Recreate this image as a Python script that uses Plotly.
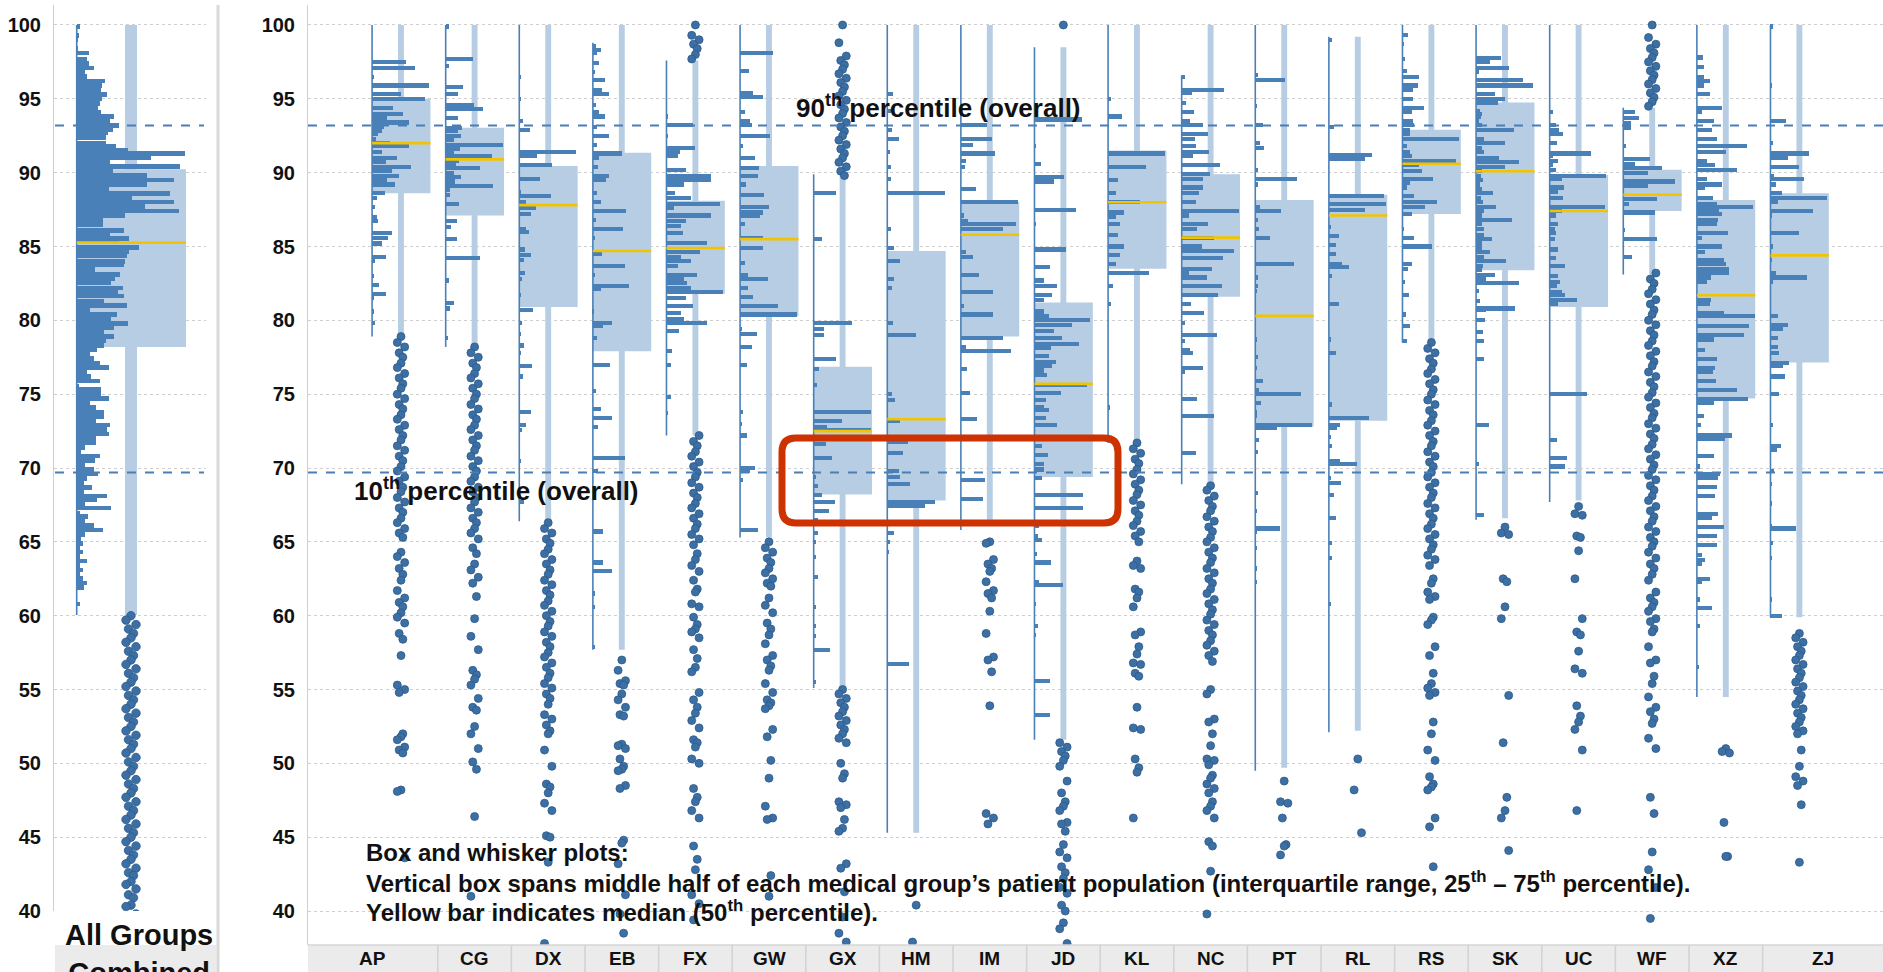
import plotly.graph_objects as go

W, H = 1883, 972

# ---------------- data ----------------
groups = ["AP", "CG", "DX", "EB", "FX", "GW", "GX", "HM", "IM", "JD",
          "KL", "NC", "PT", "RL", "RS", "SK", "UC", "WF", "XZ", "ZJ"]
q1 = [88.6, 87.1, 80.9, 77.9, 81.8, 80.3, 68.2, 67.8, 78.9, 69.4,
      83.5, 81.6, 72.8, 73.2, 87.2, 83.4, 80.9, 87.4, 74.7, 77.15]
median = [92.0, 90.9, 87.8, 84.7, 84.9, 85.5, 72.5, 73.3, 85.8, 75.7,
          88.0, 85.6, 80.3, 87.1, 90.6, 90.1, 87.4, 88.5, 81.7, 84.4]
q3 = [95.0, 93.05, 90.45, 91.35, 88.1, 90.45, 76.85, 84.7, 88.0, 81.2,
      91.5, 89.9, 88.15, 88.5, 92.9, 94.75, 89.85, 90.2, 88.15, 88.6]
whisk_lo = [79.0, 78.2, 66.3, 57.7, 72.2, 65.3, 55.1, 45.3, 66.5, 51.6,
            71.7, 69.0, 49.7, 52.2, 78.5, 66.6, 67.8, 83.1, 54.5, 59.9]
whisk_hi = [100, 100, 100, 100, 97.6, 100, 89.8, 100, 100, 98.5,
            100, 100, 100, 99.2, 100, 100, 100, 94.4, 100, 100]
hist_lo = [78.9, 78.2, 66.4, 57.7, 72.2, 65.3, 55.1, 45.3, 65.8, 51.6,
           71.7, 68.9, 49.5, 52.1, 78.5, 66.5, 67.7, 83.1, 54.5, 59.9]
hist_hi = [100, 100, 100, 98.8, 97.6, 100, 89.9, 100, 100, 98.5,
           100, 96.6, 100, 99.2, 100, 100, 100, 94.4, 100, 100]

# histogram bars: [score, relative count]
hist_AP = [[97.5, 34], [97.1, 43], [96.5, 2], [95.9, 57], [95.3, 29], [95.0, 53], [94.4, 21], [94.0, 31],
           [93.7, 15], [93.4, 37], [93.1, 12], [92.8, 10], [92.6, 6], [92.3, 4], [92.0, 18], [91.8, 37],
           [91.4, 10], [91.0, 25], [90.7, 14], [90.4, 39], [90.1, 20], [89.8, 27], [89.5, 15], [89.2, 23],
           [88.6, 13], [88.3, 5], [87.7, 3], [87.0, 5], [86.7, 6], [85.9, 20], [85.6, 16], [85.2, 10],
           [84.3, 14], [84.0, 3], [83.0, 2], [82.4, 7], [81.8, 14], [81.5, 2], [80.6, 1], [79.8, 3]]
hist_CG = [[99.9, 3], [97.7, 27], [97.2, 3], [95.8, 17], [95.3, 12], [94.6, 28], [94.3, 37], [93.7, 12],
           [93.05, 16], [92.8, 12], [92.5, 15], [92.2, 8], [91.9, 57], [91.6, 14], [91.4, 8], [91.1, 46],
           [90.8, 13], [90.5, 10], [90.3, 34], [90.0, 8], [89.7, 15], [89.4, 9], [89.1, 47], [88.8, 4],
           [88.5, 4], [87.9, 13], [86.7, 11], [86.3, 5], [85.5, 11], [84.2, 34], [82.7, 3], [81.2, 8],
           [80.8, 4], [78.8, 2]]
hist_DX = [[96.5, 2], [95.0, 1], [93.5, 4], [92.9, 11], [91.4, 57], [91.1, 18], [90.5, 33], [89.6, 21],
           [88.7, 2], [88.4, 32], [88.0, 7], [87.6, 17], [87.2, 12], [86.2, 7], [86.0, 10], [84.8, 6],
           [84.4, 12], [84.1, 5], [83.2, 6], [82.8, 3], [81.7, 2], [80.7, 14], [79.8, 3], [79.1, 2],
           [78.3, 5], [77.8, 2], [76.9, 13], [76.2, 4], [73.8, 12], [72.9, 7], [72.6, 3], [70.5, 1], [67.7, 5]]
hist_EB = [[98.6, 3], [98.3, 8], [98.1, 4], [97.4, 6], [96.8, 2], [96.3, 12], [95.6, 9], [95.3, 16],
           [94.6, 3], [94.1, 6], [93.8, 12], [93.1, 4], [92.5, 16], [91.9, 4], [91.3, 29], [91.0, 6],
           [90.4, 5], [89.8, 16], [89.5, 13], [88.6, 4], [88.0, 8], [87.4, 33], [86.8, 3], [86.2, 30],
           [85.6, 2], [84.5, 9], [83.7, 32], [83.1, 2], [82.3, 36], [82.1, 8], [80.6, 1], [79.8, 19],
           [79.6, 10], [78.8, 4], [77.0, 17], [75.2, 3], [74.0, 8], [73.4, 19], [72.8, 5], [70.7, 32],
           [69.8, 5], [65.7, 10], [63.6, 10], [63.0, 19], [61.5, 2], [60.6, 2], [57.9, 2]]
hist_FX = [[93.8, 2], [93.2, 27], [92.5, 2], [91.7, 29], [91.4, 14], [91.1, 12], [90.2, 20], [89.8, 45],
           [89.5, 45], [89.2, 18], [88.6, 9], [88.3, 25], [87.9, 54], [87.6, 8], [87.1, 45], [86.7, 20],
           [86.4, 15], [85.9, 17], [85.25, 41], [84.6, 34], [84.3, 15], [84.0, 25], [83.7, 12], [83.1, 31],
           [82.8, 18], [82.5, 21], [82.2, 25], [81.9, 57], [81.5, 20], [81.0, 27], [80.5, 15], [80.1, 18],
           [79.8, 41], [79.3, 13], [77.9, 6], [77.0, 5], [74.8, 5], [73.7, 2]]
hist_GW = [[98.1, 33], [96.9, 9], [95.4, 13], [95.1, 23], [94.1, 5], [93.5, 10], [93.2, 12], [92.5, 30],
           [91.8, 3], [91.0, 15], [90.3, 19], [89.8, 18], [89.2, 6], [88.5, 24], [87.7, 29], [87.3, 23],
           [87.1, 20], [86.5, 5], [85.6, 23], [84.9, 23], [83.9, 5], [83.1, 8], [82.8, 28], [82.2, 8],
           [81.6, 13], [81.0, 38], [80.4, 57], [79.4, 2], [79.1, 17], [78.2, 12], [77.0, 7], [73.8, 3],
           [73.0, 2], [72.2, 7], [70.0, 15], [69.8, 10], [69.2, 3], [65.8, 18]]
hist_GX = [[88.6, 22], [85.5, 8], [79.8, 38], [79.4, 10], [79.0, 10], [77.4, 22], [76.7, 5], [75.6, 3],
           [73.8, 57], [73.2, 28], [72.8, 13], [72.6, 57], [71.6, 12], [70.7, 18], [69.4, 2], [68.8, 4],
           [68.2, 8], [67.7, 21], [67.1, 15], [66.5, 4], [65.6, 4], [65.0, 2], [64.0, 2], [62.6, 4],
           [60.6, 2], [59.3, 2], [58.6, 2], [57.7, 16], [55.5, 2]]
hist_HM = [[95.3, 6], [94.2, 4], [92.9, 5], [92.3, 12], [91.4, 3], [90.4, 4], [89.6, 4], [88.6, 58],
           [86.2, 4], [84.9, 7], [84.0, 13], [82.8, 7], [82.2, 5], [79.8, 6], [79.0, 29], [75.0, 5],
           [74.6, 8], [73.2, 13], [71.8, 21], [71.0, 16], [69.8, 12], [69.4, 13], [68.9, 23], [67.7, 48],
           [67.4, 38], [65.6, 7], [65.0, 3], [64.3, 2], [56.7, 22]]
hist_IM = [[93.2, 26], [92.3, 31], [91.9, 12], [91.3, 34], [90.8, 5], [90.4, 4], [88.9, 15], [88.0, 57],
           [87.1, 3], [86.7, 7], [86.5, 55], [86.2, 42], [84.6, 5], [84.3, 12], [83.1, 18], [81.9, 32],
           [81.0, 3], [80.4, 32], [78.8, 42], [78.2, 5], [77.9, 50], [76.7, 6], [75.1, 9], [73.3, 16],
           [69.2, 24], [67.9, 22]]
hist_JD = [[93.6, 48], [91.8, 2], [90.6, 7], [89.7, 30], [89.4, 20], [87.5, 42], [86.5, 2], [84.8, 32],
           [83.6, 16], [82.7, 10], [82.3, 23], [81.7, 18], [81.4, 10], [80.6, 10], [80.3, 15], [80.0, 56],
           [79.7, 38], [79.3, 20], [78.8, 28], [78.4, 45], [78.1, 17], [77.6, 15], [77.2, 22], [76.9, 18],
           [76.6, 10], [76.3, 13], [75.6, 53], [75.1, 27], [74.6, 12], [74.1, 10], [73.9, 15], [73.4, 12],
           [72.9, 23], [72.0, 13], [71.5, 8], [70.9, 14], [70.3, 10], [69.9, 10], [69.3, 8], [68.2, 49],
           [67.3, 49], [66.1, 5], [65.4, 4], [65.1, 8], [64.2, 3], [63.6, 17], [62.3, 5], [62.1, 29],
           [60.8, 2], [59.3, 4], [58.7, 2], [55.6, 16], [53.3, 16]]
hist_KL = [[95.0, 3], [93.8, 14], [91.3, 57], [90.4, 38], [89.5, 10], [88.6, 8], [88.0, 32], [87.3, 16],
           [87.0, 8], [86.5, 12], [85.8, 10], [85.0, 16], [84.4, 12], [83.8, 8], [83.2, 41], [82.3, 5],
           [81.1, 3], [74.1, 2]]
hist_NC = [[96.5, 3], [95.6, 42], [95.4, 10], [94.7, 4], [94.1, 12], [93.5, 8], [93.2, 21], [92.6, 26],
           [92.3, 13], [91.8, 14], [91.4, 27], [91.1, 11], [90.5, 38], [89.9, 28], [89.6, 21], [89.0, 21],
           [88.6, 17], [88.0, 14], [87.4, 57], [87.1, 7], [86.5, 26], [86.2, 15], [85.6, 32], [85.0, 20],
           [84.7, 52], [84.2, 41], [83.5, 30], [83.2, 7], [82.9, 25], [82.3, 40], [81.7, 36], [81.1, 9],
           [80.5, 22], [79.8, 3], [79.0, 35], [78.6, 3], [78.0, 8], [77.8, 11], [76.8, 21], [76.5, 3],
           [74.7, 15], [73.5, 32], [71.0, 14]]
hist_PT = [[96.6, 3], [96.3, 30], [94.5, 2], [93.2, 8], [92.0, 5], [91.7, 9], [90.2, 3], [89.6, 42],
           [89.2, 3], [87.7, 5], [87.4, 26], [86.8, 3], [86.2, 4], [85.6, 15], [83.8, 39], [82.9, 3],
           [82.3, 3], [82.0, 2], [78.7, 2], [77.5, 3], [76.8, 2], [75.9, 8], [75.3, 4], [75.0, 46],
           [74.4, 6], [73.8, 2], [73.5, 2], [72.9, 57], [72.7, 22], [71.9, 4], [71.1, 3], [68.3, 3],
           [67.1, 2], [65.9, 25], [65.7, 2], [64.6, 2], [63.2, 2], [62.3, 2]]
hist_RL = [[99.0, 3], [93.1, 5], [91.2, 43], [90.9, 36], [88.4, 55], [87.9, 57], [87.5, 36], [86.3, 2],
           [85.7, 10], [85.1, 7], [84.5, 7], [83.8, 13], [83.6, 20], [83.0, 3], [81.1, 10], [78.7, 2],
           [77.8, 7], [74.3, 3], [73.4, 40], [72.9, 11], [72.7, 8], [72.1, 2], [71.5, 3], [70.5, 11],
           [70.3, 28], [69.3, 2], [69.0, 12], [68.2, 5], [66.6, 7], [64.9, 3], [63.9, 3], [60.8, 2]]
hist_RS = [[99.3, 6], [98.7, 2], [97.7, 3], [96.9, 5], [96.5, 17], [95.9, 16], [95.6, 11], [95.0, 11],
           [94.4, 22], [94.1, 10], [93.5, 11], [93.2, 12], [92.9, 8], [92.6, 8], [92.3, 57], [91.8, 5],
           [91.4, 8], [91.1, 10], [90.8, 54], [90.5, 17], [90.1, 20], [89.6, 31], [89.3, 8], [89.0, 5],
           [88.4, 12], [88.0, 35], [87.7, 23], [87.2, 10], [86.2, 2], [85.6, 12], [85.0, 30], [83.8, 10],
           [83.5, 6], [82.6, 3], [81.7, 7], [80.4, 4], [79.6, 8], [78.6, 5]]
hist_SK = [[97.75, 25], [97.5, 14], [97.1, 33], [96.8, 3], [96.3, 47], [95.9, 57], [95.3, 19], [95.0, 29],
           [94.7, 22], [94.2, 4], [94.0, 6], [93.8, 5], [93.5, 3], [93.2, 6], [92.9, 38], [92.3, 8],
           [92.0, 29], [91.7, 6], [91.4, 8], [91.0, 23], [90.7, 43], [90.4, 29], [90.1, 6], [89.8, 5],
           [89.5, 7], [89.2, 4], [88.9, 6], [88.6, 17], [88.3, 5], [88.0, 7], [87.7, 20], [87.4, 8],
           [87.1, 6], [86.8, 36], [86.5, 6], [86.2, 8], [85.8, 8], [85.5, 16], [85.2, 6], [84.9, 6],
           [84.6, 14], [84.3, 8], [84.0, 30], [83.7, 7], [83.4, 6], [83.1, 19], [82.8, 10], [82.5, 43],
           [82.0, 3], [81.3, 4], [80.8, 39], [80.7, 10], [80.0, 9], [79.2, 7], [78.6, 8], [77.4, 8],
           [72.9, 13], [70.3, 3], [66.8, 8]]
hist_UC = [[94.1, 3], [93.2, 6], [92.9, 9], [92.6, 13], [92.0, 7], [91.3, 41], [91.1, 3], [90.8, 8],
           [90.5, 3], [90.2, 6], [89.8, 56], [89.6, 12], [89.0, 14], [88.7, 8], [88.3, 13], [87.7, 55],
           [87.4, 12], [87.1, 6], [86.5, 8], [86.2, 5], [85.9, 6], [85.5, 5], [84.8, 8], [84.2, 6],
           [83.7, 15], [83.0, 8], [82.6, 10], [82.3, 7], [81.9, 12], [81.7, 15], [81.4, 27], [81.1, 8],
           [75.0, 37], [71.9, 7], [70.7, 17], [70.1, 15]]
hist_WF = [[94.1, 12], [93.7, 16], [93.35, 8], [93.0, 8], [91.8, 3], [90.9, 27], [90.6, 12], [90.3, 39],
           [90.0, 25], [89.4, 52], [89.1, 25], [88.2, 34], [87.9, 6], [87.3, 32], [86.1, 2], [85.5, 34],
           [84.3, 9]]
hist_XZ = [[97.8, 6], [97.15, 7], [96.5, 7], [96.2, 13], [95.9, 7], [95.3, 13], [94.4, 25], [94.1, 5],
           [93.5, 17], [92.9, 15], [92.3, 20], [91.8, 50], [91.4, 29], [90.8, 10], [90.5, 18], [90.2, 40],
           [89.6, 10], [89.2, 25], [89.0, 8], [88.3, 16], [87.9, 20], [87.7, 56], [87.4, 22], [87.2, 25],
           [86.8, 21], [86.5, 20], [85.9, 31], [85.6, 5], [85.0, 25], [84.6, 8], [84.1, 27], [83.8, 29],
           [83.5, 32], [83.2, 32], [82.9, 14], [82.6, 10], [81.4, 14], [81.1, 13], [80.5, 27], [80.3, 58],
           [79.6, 52], [79.0, 47], [78.7, 17], [78.0, 8], [77.4, 20], [76.8, 18], [76.5, 16], [75.9, 19],
           [75.3, 40], [74.7, 51], [74.4, 17], [73.5, 7], [72.9, 4], [72.2, 35], [72.0, 28], [70.8, 17],
           [70.1, 3], [69.6, 23], [69.3, 21], [68.7, 20], [68.1, 18], [66.9, 21], [66.6, 15], [66.0, 27],
           [65.4, 20], [64.8, 20], [64.1, 5], [63.8, 8], [63.5, 5], [62.5, 13], [62.3, 5], [61.1, 3],
           [60.5, 15], [59.3, 3], [56.5, 2]]
hist_ZJ = [[99.9, 3], [95.9, 2], [93.5, 16], [92.0, 3], [91.3, 39], [91.0, 18], [90.4, 29], [89.8, 4],
           [89.6, 34], [89.2, 6], [88.6, 12], [88.3, 57], [88.0, 8], [87.4, 43], [87.1, 2], [85.9, 29],
           [85.0, 3], [84.1, 2], [83.2, 6], [82.9, 37], [82.6, 3], [80.3, 8], [79.7, 18], [79.4, 13],
           [78.8, 8], [78.2, 8], [77.8, 9], [77.1, 19], [76.9, 13], [76.2, 15], [75.0, 9], [72.9, 3],
           [71.5, 11], [71.2, 7], [69.8, 4], [68.9, 2], [67.6, 2], [66.1, 2], [65.9, 26], [64.9, 3],
           [63.9, 2], [61.1, 2], [60.0, 12]]

# individual patients outside the histogram range (dots)
dots_AP = [78.9, 78.5, 78.2, 77.8, 77.5, 77.1, 76.8, 76.4, 76.1, 75.7, 75.4, 75.0, 74.7, 74.3, 74.0, 73.6,
           73.3, 72.9, 72.6, 72.2, 71.9, 71.5, 71.2, 70.8, 70.5, 70.1, 69.8, 69.4, 69.1, 68.7, 68.4, 68.0,
           67.7, 67.3, 67.0, 66.6, 66.3, 65.9, 65.6, 65.3, 64.3, 64.0, 63.6, 63.2, 62.8, 62.4, 61.7, 61.2,
           60.9, 60.6, 60.2, 59.9, 59.5, 58.8, 58.4, 57.3, 55.3, 55.0, 54.8, 52.0, 51.8, 51.6, 51.1, 50.9,
           50.7, 48.2, 48.1, 43.6]
dots_CG = [78.2, 77.8, 77.5, 77.1, 76.8, 76.4, 76.1, 75.7, 75.4, 75.0, 74.7, 74.3, 74.0, 73.6, 73.3, 72.9,
           72.6, 72.2, 71.9, 71.5, 71.2, 70.8, 70.5, 70.1, 69.8, 69.4, 69.1, 68.7, 68.4, 68.0, 67.7, 67.3,
           67.0, 66.6, 66.3, 65.9, 65.6, 65.2, 64.6, 64.2, 63.5, 63.1, 62.6, 62.2, 61.3, 59.8, 58.6, 57.7,
           56.3, 56.0, 55.7, 55.3, 54.4, 53.8, 53.6, 52.5, 52.0, 51.0, 50.1, 49.6, 46.4, 41.0]
dots_DX = [66.3, 65.9, 65.6, 65.2, 64.9, 64.5, 64.2, 63.8, 63.5, 63.1, 62.8, 62.4, 62.1, 61.7, 61.4, 61.0,
           60.7, 60.3, 60.0, 59.6, 59.3, 58.9, 58.6, 58.2, 57.9, 57.5, 57.2, 56.8, 56.5, 56.1, 55.8, 55.4,
           55.1, 54.7, 54.4, 54.0, 53.3, 53.0, 52.6, 52.2, 52.0, 50.9, 49.8, 48.6, 48.4, 48.0, 47.3, 46.8,
           45.1, 45.0, 43.3, 37.8]
dots_EB = [57.0, 56.3, 55.6, 55.4, 55.3, 54.7, 54.3, 53.8, 53.3, 53.2, 51.3, 51.2, 51.0, 50.3, 49.8, 49.6,
           49.5, 48.5, 48.3, 44.8, 44.6, 43.2, 41.1, 39.8, 38.5]
dots_FX = [100.0, 99.3, 99.0, 98.7, 98.4, 98.0, 97.7,
           72.2, 71.8, 71.5, 71.1, 70.8, 70.4, 70.1, 69.7, 69.4, 69.0, 68.7, 68.3, 68.0, 67.6, 67.3, 66.9,
           66.6, 66.2, 65.9, 65.5, 65.2, 64.8, 64.2, 63.8, 63.4, 63.0, 62.4, 61.8, 61.6, 60.8, 60.6, 59.9,
           59.4, 59.1, 58.9, 58.5, 57.7, 57.1, 56.5, 56.2, 54.8, 54.3, 53.8, 53.4, 52.9, 52.4, 51.6, 51.4,
           51.1, 50.3, 50.0, 48.3, 47.7, 47.4, 46.8, 46.3, 44.4, 43.5, 42.8, 41.1, 40.5, 39.4]
dots_GW = [65.0, 64.6, 64.3, 63.9, 63.6, 63.2, 62.9, 62.5, 62.2, 62.0, 61.2, 60.7, 60.2, 59.5, 59.1, 58.7,
           58.1, 57.3, 57.0, 56.6, 56.3, 55.4, 54.8, 54.3, 54.1, 53.9, 53.7, 52.3, 51.8, 50.2, 49.0, 47.1,
           46.3, 46.2, 42.4, 41.0]
dots_GX = [100.0, 98.8, 97.9, 97.6, 97.3, 97.0, 96.7, 96.4, 96.1, 95.8, 95.5, 95.2, 94.9, 94.6, 94.3, 94.0,
           93.7, 93.4, 93.1, 92.8, 92.5, 92.2, 91.9, 91.6, 91.3, 91.0, 90.7, 90.4, 90.1, 89.8,
           55.0, 54.7, 54.4, 54.1, 53.8, 53.5, 53.2, 52.9, 52.6, 52.3, 52.0, 51.7, 51.4, 50.0, 49.3, 49.0,
           47.4, 47.2, 47.0, 46.2, 45.6, 45.4, 43.2, 42.9, 41.3, 39.6, 38.5, 37.9]
dots_HM = [40.4, 37.9]
dots_IM = [65.0, 64.9, 63.8, 63.5, 63.2, 63.0, 62.3, 61.7, 61.5, 61.2, 60.3, 58.8, 57.2, 57.0, 56.2, 53.9,
           46.6, 46.3, 45.9]
dots_JD = [100.0, 51.4, 51.1, 50.8, 50.5, 50.2, 49.8, 48.8, 48.0, 47.4, 47.1, 46.8, 46.0, 45.9, 45.4, 44.5,
           44.0, 43.6, 43.0, 42.6, 42.2, 41.6, 41.2, 40.4, 40.0, 39.2, 38.8, 37.8]
dots_KL = [71.7, 71.3, 71.0, 70.6, 70.3, 69.9, 69.6, 69.2, 68.9, 68.5, 68.2, 67.8, 67.5, 67.1, 66.8, 66.4,
           66.1, 65.7, 65.4, 65.0, 63.7, 63.4, 63.2, 61.8, 61.6, 61.2, 60.6, 58.9, 58.7, 57.9, 57.4, 56.8,
           56.7, 56.1, 55.9, 53.8, 52.4, 52.3, 50.3, 49.7, 49.4, 46.3]
dots_NC = [68.8, 68.5, 68.1, 67.8, 67.4, 67.1, 66.7, 66.4, 66.0, 65.7, 65.3, 65.0, 64.6, 64.3, 63.9, 63.6,
           63.2, 62.9, 62.5, 62.2, 61.8, 61.5, 61.1, 60.8, 60.4, 60.1, 59.7, 59.4, 59.0, 58.7, 58.3, 58.0,
           57.6, 57.3, 56.9, 55.0, 54.7, 53.0, 52.8, 52.0, 51.2, 50.3, 50.2, 49.9, 49.2, 49.0, 48.6, 48.3,
           48.0, 47.4, 47.1, 46.8, 46.3, 44.7, 44.4, 42.7, 39.8]
dots_PT = [48.8, 47.4, 47.3, 46.3, 44.5, 44.4, 43.8]
dots_RL = [50.3, 48.2, 45.3]
dots_RS = [78.5, 78.1, 77.8, 77.4, 77.1, 76.7, 76.4, 76.0, 75.7, 75.3, 75.0, 74.6, 74.3, 73.9, 73.6, 73.2,
           72.9, 72.5, 72.2, 71.8, 71.5, 71.1, 70.8, 70.4, 70.1, 69.7, 69.4, 69.0, 68.7, 68.3, 68.0, 67.6,
           67.3, 66.9, 66.6, 66.2, 65.9, 65.5, 65.2, 64.8, 64.5, 64.1, 63.8, 63.4, 62.5, 62.2, 61.6, 61.3,
           61.1, 59.9, 59.7, 59.4, 57.9, 57.3, 56.1, 55.4, 55.1, 54.8, 54.6, 52.8, 52.0, 50.9, 50.2, 49.1,
           48.6, 48.4, 48.2, 46.3, 45.7, 43.0]
dots_SK = [66.0, 65.6, 65.5, 62.5, 62.3, 60.6, 59.8, 54.6, 51.4, 47.7, 46.8, 46.3, 44.1]
dots_UC = [67.4, 66.9, 66.8, 65.4, 65.3, 64.4, 62.5, 59.8, 58.9, 58.7, 57.6, 56.4, 56.1, 53.9, 53.2, 52.8,
           52.3, 50.9, 46.8]
dots_WF = [100.0, 99.15, 98.7, 98.4, 98.1, 97.8, 97.5, 97.2, 96.9, 96.6, 96.3, 96.0, 95.7, 95.4, 95.1, 94.8,
           94.5,
           83.2, 82.8, 82.5, 82.1, 81.8, 81.4, 81.1, 80.7, 80.4, 80.0, 79.7, 79.3, 79.0, 78.6, 78.3, 77.9,
           77.6, 77.2, 76.9, 76.5, 76.2, 75.8, 75.5, 75.1, 74.8, 74.4, 74.1, 73.7, 73.4, 73.0, 72.7, 72.3,
           72.0, 71.6, 71.3, 70.9, 70.6, 70.2, 69.9, 69.5, 69.2, 68.8, 68.5, 68.1, 67.8, 67.4, 67.1, 66.7,
           66.4, 66.0, 65.7, 65.3, 65.0, 64.7, 64.3, 63.9, 63.5, 63.2, 62.8, 62.4, 61.6, 61.2, 60.9, 60.6,
           60.3, 59.8, 59.6, 59.1, 58.9, 57.9, 57.0, 56.8, 55.9, 55.4, 54.5, 53.8, 53.5, 53.0, 52.7, 51.7,
           51.0, 47.7, 46.6, 44.0, 42.8, 41.6, 39.5]
dots_XZ = [51.0, 50.8, 50.7, 46.0, 43.7, 43.7]
dots_ZJ = [58.8, 58.5, 58.2, 57.9, 57.6, 57.3, 57.0, 56.7, 56.4, 56.1, 55.8, 55.5, 55.2, 54.9, 54.6, 54.3,
           54.0, 53.7, 53.4, 53.1, 52.8, 52.5, 52.2, 52.0, 50.9, 49.8, 49.1, 48.8, 48.5, 47.2, 43.3]

# All groups combined
all_q1, all_median, all_q3 = 78.2, 85.26, 90.23
all_whisk = [60.05, 100]
hist_ALL = [[99.9, 3], [99.3, 2], [99.0, 1], [98.4, 1], [98.1, 12], [97.7, 10], [97.4, 12], [97.1, 17],
            [96.8, 8], [96.5, 10], [96.2, 28], [95.9, 25], [95.6, 24], [95.3, 30], [95.0, 25], [94.7, 23],
            [94.4, 21], [94.1, 24], [93.8, 37], [93.5, 33], [93.2, 42], [92.9, 36], [92.7, 31], [92.4, 29],
            [92.0, 29], [91.8, 39], [91.5, 51], [91.3, 108], [91.0, 74], [90.7, 33], [90.4, 103], [90.1, 36],
            [89.8, 70], [89.5, 97], [89.2, 70], [88.9, 32], [88.6, 93], [88.3, 55], [88.0, 97], [87.7, 68],
            [87.4, 102], [87.1, 48], [86.75, 26], [86.5, 26], [86.1, 47], [85.8, 33], [85.55, 52], [85.3, 42],
            [84.95, 62], [84.65, 52], [84.35, 50], [84.0, 48], [83.75, 47], [83.45, 18], [83.1, 43], [82.8, 38],
            [82.55, 34], [82.2, 46], [81.95, 41], [81.65, 47], [81.3, 27], [81.0, 50], [80.7, 13], [80.4, 40],
            [80.1, 34], [79.8, 51], [79.5, 37], [79.2, 27], [78.9, 37], [78.6, 29], [78.3, 27], [78.0, 20],
            [77.7, 13], [77.4, 17], [77.1, 23], [76.8, 32], [76.5, 10], [76.2, 14], [75.9, 23], [75.55, 2],
            [75.3, 24], [75.0, 24], [74.7, 32], [74.4, 13], [74.1, 19], [73.8, 27], [73.5, 27], [73.2, 19],
            [72.9, 33], [72.6, 30], [72.3, 32], [72.0, 19], [71.7, 19], [71.4, 8], [71.1, 4], [70.8, 23],
            [70.5, 18], [70.2, 8], [69.9, 17], [69.6, 21], [69.3, 10], [69.0, 7], [68.7, 15], [68.4, 7],
            [68.1, 30], [67.85, 20], [67.6, 8], [67.3, 34], [66.95, 3], [66.7, 11], [66.4, 8], [66.1, 17],
            [65.8, 26], [65.5, 8], [65.2, 4], [64.9, 6], [64.6, 3], [64.3, 6], [64.0, 3], [63.7, 10],
            [63.4, 3], [63.1, 6], [62.8, 3], [62.5, 6], [62.2, 10], [61.9, 7], [60.8, 3]]
dots_ALL = [60.0, 59.7, 59.4, 59.1, 58.8, 58.5, 58.2, 57.9, 57.6, 57.3, 57.0, 56.7, 56.4, 56.1, 55.8, 55.5,
            55.2, 54.9, 54.6, 54.3, 54.0, 53.7, 53.4, 53.1, 52.8, 52.5, 52.2, 51.9, 51.6, 51.3, 51.0, 50.7,
            50.4, 50.1, 49.8, 49.5, 49.2, 48.9, 48.6, 48.3, 48.0, 47.7, 47.4, 47.1, 46.8, 46.5, 46.2, 45.9,
            45.6, 45.3, 45.0, 44.7, 44.4, 44.1, 43.8, 43.5, 43.2, 42.9, 42.6, 42.4, 42.0, 41.8, 41.5, 41.1,
            40.9, 40.4, 40.3, 39.8, 39.5]

hists = [hist_AP, hist_CG, hist_DX, hist_EB, hist_FX, hist_GW, hist_GX, hist_HM, hist_IM, hist_JD,
         hist_KL, hist_NC, hist_PT, hist_RL, hist_RS, hist_SK, hist_UC, hist_WF, hist_XZ, hist_ZJ]
dots = [dots_AP, dots_CG, dots_DX, dots_EB, dots_FX, dots_GW, dots_GX, dots_HM, dots_IM, dots_JD,
        dots_KL, dots_NC, dots_PT, dots_RL, dots_RS, dots_SK, dots_UC, dots_WF, dots_XZ, dots_ZJ]

p90, p10 = 93.2, 69.7

# ---------------- styling / geometry ----------------
DARK = "#4a80b8"
LIGHT = "#b6cde3"
DOT = "#3c6fa3"
DOTLINE = "#2c5a8a"
GOLD = "#f2c400"
FONT = "Liberation Sans, Arial, sans-serif"

Y_RANGE = [37.70, 101.354]
Y_DOM = [1 - 945 / H, 1 - 5 / H]

def fx(px):
    return px / W

def fy(py):
    return 1 - py / H

# right panel: one unit per medical group
KPX = 73.6
K_RANGE = [(308 - 401) / KPX, (1883 - 401) / KPX]
BL, BR, WHW = -0.393, 0.40, 0.04
# left panel: axis units in pixels from its left edge
L_RANGE = [0, 152]
L_BASE, L_MID, L_WHW, L_BOXR = 22.7, 77.0, 6.0, 132.0

fig = go.Figure()
shapes = []

# whiskers and boxes (beneath bars)
for k in range(len(groups)):
    shapes.append(dict(type="rect", xref="x2", yref="y2", x0=k - WHW, x1=k + WHW,
                       y0=whisk_lo[k], y1=whisk_hi[k], fillcolor=LIGHT, line_width=0, layer="between"))
    shapes.append(dict(type="rect", xref="x2", yref="y2", x0=k + BL, x1=k + BR,
                       y0=q1[k], y1=q3[k], fillcolor=LIGHT, line_width=0, layer="between"))
shapes.append(dict(type="rect", xref="x", yref="y", x0=L_MID - L_WHW, x1=L_MID + L_WHW,
                   y0=all_whisk[0], y1=all_whisk[1], fillcolor=LIGHT, line_width=0, layer="between"))
shapes.append(dict(type="rect", xref="x", yref="y", x0=L_BASE - 0.7, x1=L_BOXR,
                   y0=all_q1, y1=all_q3, fillcolor=LIGHT, line_width=0, layer="between"))

# histogram baselines
bx, by = [], []
for k in range(len(groups)):
    bx += [k + BL, k + BL, None]
    by += [hist_lo[k], hist_hi[k], None]
fig.add_trace(go.Scatter(x=bx, y=by, mode="lines", line=dict(color=DARK, width=1.6),
                         xaxis="x2", yaxis="y2", hoverinfo="skip", showlegend=False))
fig.add_trace(go.Scatter(x=[L_BASE, L_BASE], y=[all_whisk[0], 100], mode="lines",
                         line=dict(color=DARK, width=1.6), xaxis="x", yaxis="y",
                         hoverinfo="skip", showlegend=False))

# histogram bars
hy, hl, hb = [], [], []
for k, h in enumerate(hists):
    for v, c in h:
        hy.append(v)
        hl.append(c / KPX)
        hb.append(k + BL)
fig.add_trace(go.Bar(y=hy, x=hl, base=hb, orientation="h", width=0.28,
                     marker=dict(color=DARK, line_width=0), xaxis="x2", yaxis="y2",
                     hoverinfo="skip", showlegend=False))
fig.add_trace(go.Bar(y=[v for v, c in hist_ALL], x=[c for v, c in hist_ALL],
                     base=[L_BASE] * len(hist_ALL), orientation="h", width=0.31,
                     marker=dict(color=DARK, line_width=0), xaxis="x", yaxis="y",
                     hoverinfo="skip", showlegend=False))

# medians
mx, my = [], []
for k in range(len(groups)):
    mx += [k + BL, k + BR, None]
    my += [median[k], median[k], None]
fig.add_trace(go.Scatter(x=mx, y=my, mode="lines", line=dict(color=GOLD, width=2.6),
                         xaxis="x2", yaxis="y2", hoverinfo="skip", showlegend=False))
fig.add_trace(go.Scatter(x=[L_BASE, L_BOXR], y=[all_median, all_median], mode="lines",
                         line=dict(color=GOLD, width=2.6), xaxis="x", yaxis="y",
                         hoverinfo="skip", showlegend=False))

# dots
jit = [0.0, -0.05, 0.05, -0.025, 0.025]
dx, dy = [], []
for k, d in enumerate(dots):
    for i, v in enumerate(d):
        dx.append(k + jit[i % 5])
        dy.append(v)
fig.add_trace(go.Scatter(x=dx, y=dy, mode="markers",
                         marker=dict(size=8, color=DOT, line=dict(color=DOTLINE, width=0.8)),
                         xaxis="x2", yaxis="y2", hoverinfo="skip", showlegend=False))
ljit = [0.0, -5.0, 5.0, -2.5, 2.5]
fig.add_trace(go.Scatter(x=[L_MID + ljit[i % 5] for i in range(len(dots_ALL))], y=dots_ALL,
                         mode="markers",
                         marker=dict(size=8.5, color=DOT, line=dict(color=DOTLINE, width=0.8)),
                         xaxis="x", yaxis="y", hoverinfo="skip", showlegend=False))

# percentile reference lines
for val in (p90, p10):
    shapes.append(dict(type="line", xref="x2", yref="y2", x0=K_RANGE[0], x1=K_RANGE[1], y0=val, y1=val,
                       line=dict(color="#4a7fb5", width=2, dash="dash"), layer="above"))
    shapes.append(dict(type="line", xref="x", yref="y", x0=1, x1=150, y0=val, y1=val,
                       line=dict(color="#4a7fb5", width=2, dash="dash"), layer="above"))

# red highlight box (rounded)
x0, y0, x1, y1, r = 782, 438, 1118, 523, 14
def P(px, py):
    return f"{fx(px):.5f},{fy(py):.5f}"
path = (f"M {P(x0 + r, y0)} L {P(x1 - r, y0)} Q {P(x1, y0)} {P(x1, y0 + r)} "
        f"L {P(x1, y1 - r)} Q {P(x1, y1)} {P(x1 - r, y1)} L {P(x0 + r, y1)} "
        f"Q {P(x0, y1)} {P(x0, y1 - r)} L {P(x0, y0 + r)} Q {P(x0, y0)} {P(x0 + r, y0)} Z")
shapes.append(dict(type="path", xref="paper", yref="paper", path=path,
                   line=dict(color="#cc3300", width=7), layer="above"))

# category strip and panel frames
shapes.append(dict(type="rect", xref="paper", yref="paper", x0=fx(308), x1=1, y0=0, y1=fy(945),
                   fillcolor="#ebebeb", line_width=0, layer="above"))
shapes.append(dict(type="line", xref="paper", yref="paper", x0=fx(308), x1=1, y0=fy(945), y1=fy(945),
                   line=dict(color="#d6d6d6", width=1.5), layer="above"))
for k in range(len(groups) - 1):
    shapes.append(dict(type="line", xref="x2", yref="paper", x0=k + 0.5, x1=k + 0.5, y0=0, y1=fy(945),
                       line=dict(color="#d2d2d2", width=1.5), layer="above"))
shapes.append(dict(type="rect", xref="paper", yref="paper", x0=fx(48), x1=fx(216.5), y0=fy(945), y1=fy(911),
                   fillcolor="white", line_width=0, layer="above"))
shapes.append(dict(type="rect", xref="paper", yref="paper", x0=fx(55), x1=fx(216.5), y0=0, y1=fy(945),
                   fillcolor="#ebebeb", line_width=0, layer="above"))
shapes.append(dict(type="line", xref="paper", yref="paper", x0=fx(218), x1=fx(218), y0=0, y1=fy(5),
                   line=dict(color="#d9d9d9", width=3), layer="above"))

annotations = []
for k, g in enumerate(groups):
    if k == 0:
        xpos = (K_RANGE[0] + 0.5) / 2
    elif k == len(groups) - 1:
        xpos = (k - 0.5 + K_RANGE[1]) / 2
    else:
        xpos = k
    annotations.append(dict(x=xpos, y=fy(958), xref="x2", yref="paper", text=f"<b>{g}</b>",
                            showarrow=False, font=dict(family=FONT, size=19, color="#111"),
                            xanchor="center", yanchor="middle"))
annotations.append(dict(x=fx(139), y=fy(917), xref="paper", yref="paper",
                        text="<b>All Groups<br>Combined</b>", showarrow=False,
                        font=dict(family=FONT, size=29, color="#111"), xanchor="center", yanchor="top"))
annotations.append(dict(x=fx(938), y=fy(107), xref="paper", yref="paper",
                        text="<b>90<sup>th</sup> percentile (overall)</b>", showarrow=False,
                        font=dict(family=FONT, size=26, color="#111"), xanchor="center", yanchor="middle"))
annotations.append(dict(x=fx(496), y=fy(489), xref="paper", yref="paper",
                        text="<b>10<sup>th</sup> percentile (overall)</b>", showarrow=False,
                        font=dict(family=FONT, size=26, color="#111"), xanchor="center", yanchor="middle"))
notes = ["<b>Box and whisker plots:</b>",
         "<b>Vertical box spans middle half of each medical group’s patient population "
         "(interquartile range, 25<sup>th</sup> – 75<sup>th</sup> percentile).</b>",
         "<b>Yellow bar indicates median (50<sup>th</sup> percentile).</b>"]
for i, t in enumerate(notes):
    annotations.append(dict(x=fx(364), y=fy(852 + 29.5 * i), xref="paper", yref="paper", text=t,
                            showarrow=False, font=dict(family=FONT, size=24, color="#111"),
                            xanchor="left", yanchor="middle"))

tickvals = [40, 45, 50, 55, 60, 65, 70, 75, 80, 85, 90, 95, 100]
yax = dict(range=Y_RANGE, domain=Y_DOM, tickmode="array", tickvals=tickvals,
           tickfont=dict(family=FONT, size=20, color="#111", weight="bold"),
           showgrid=True, gridcolor="#cfcfcf", griddash="dot", gridwidth=1,
           showline=True, linecolor="#cfcfcf", linewidth=1, zeroline=False,
           ticks="", ticklabelstandoff=8, fixedrange=True)

fig.update_layout(
    width=W, height=H, autosize=False,
    margin=dict(l=0, r=0, t=0, b=0),
    paper_bgcolor="white", plot_bgcolor="white",
    barmode="overlay", bargap=0,
    showlegend=False,
    xaxis=dict(domain=[fx(54), fx(206)], range=L_RANGE, visible=False, fixedrange=True),
    yaxis=dict(anchor="x", **yax),
    xaxis2=dict(domain=[fx(308), 1], range=K_RANGE, visible=False, fixedrange=True),
    yaxis2=dict(anchor="x2", **yax),
    shapes=shapes,
    annotations=annotations,
)

fig.write_html("out.html", config={"displayModeBar": False},
               post_script="document.body.style.margin='0';document.body.style.overflow='hidden';")
